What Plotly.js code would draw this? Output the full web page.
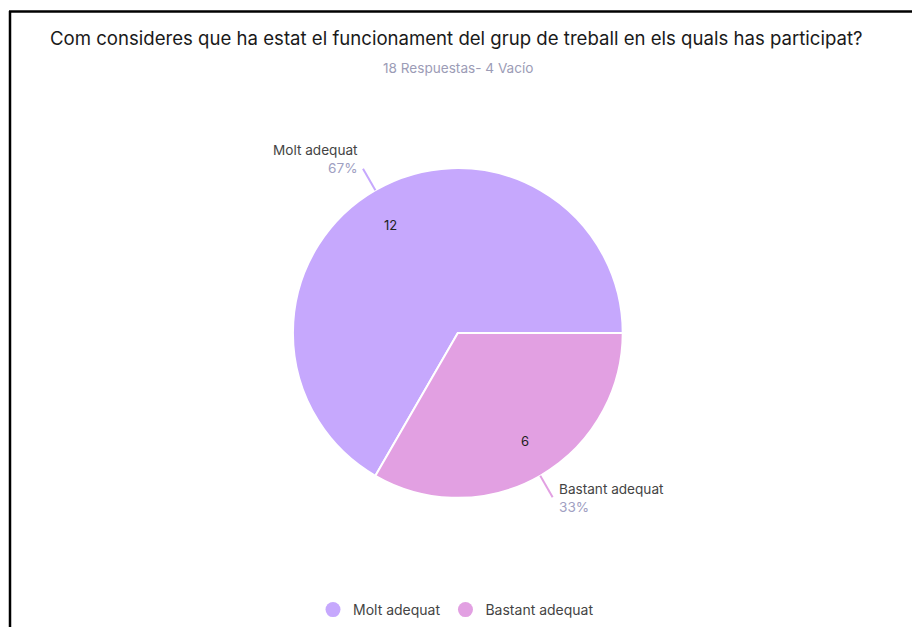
<!DOCTYPE html>
<html>
<head>
<meta charset="utf-8">
<script src="https://cdn.plot.ly/plotly-3.0.1.min.js"></script>
<style>html,body{margin:0;padding:0;background:#fff;}#chart{width:912px;height:627px;}</style>
</head>
<body>
<div id="chart"></div>
<script>
const titleText = 'Com consideres que ha estat el funcionament del grup de treball en els quals has participat?';
const subtitleText = '18 Respuestas- 4 Vacío';
const categories = ['Molt adequat', 'Bastant adequat'];
const counts = [12, 6];
const colors = ['#c6a8fd', '#e2a0e2'];

const W = 912, H = 627;
const FONT = 'Inter, "Noto Sans", sans-serif';
const domX = [0.321, 0.683];
const domY = [0.206, 0.732];

const total = counts.reduce((a, b) => a + b, 0);
const percents = counts.map(v => Math.round(v / total * 100) + '%');

// pie geometry in pixels (margins are zero so paper == full page)
const cx = W * (domX[0] + domX[1]) / 2;
const cy = H * (1 - (domY[0] + domY[1]) / 2);
const r = Math.min(W * (domX[1] - domX[0]), H * (domY[1] - domY[0])) / 2;
const toPaper = (px, py) => [px / W, 1 - py / H];
const pt = (deg, k) => {
  const a = deg * Math.PI / 180;
  return [cx + k * r * Math.cos(a), cy - k * r * Math.sin(a)];
};

const annotations = [
  {text: titleText, xref: 'paper', yref: 'paper', x: 0.5, y: 1 - 38 / H, xanchor: 'center', yanchor: 'middle',
   showarrow: false, font: {family: FONT, size: 18.6, color: '#1a1a1a'}},
  {text: subtitleText, xref: 'paper', yref: 'paper', x: 0.502, y: 1 - 68 / H, xanchor: 'center', yanchor: 'middle',
   showarrow: false, font: {family: FONT, size: 13.6, color: '#9c9cb6'}}
];
const shapes = [
  {type: 'line', xref: 'paper', yref: 'paper', x0: 9 / W, x1: 1, y0: 1 - 11.5 / H, y1: 1 - 11.5 / H, line: {color: '#000', width: 2.5}},
  {type: 'line', xref: 'paper', yref: 'paper', x0: 10 / W, x1: 10 / W, y0: 1 - 11 / H, y1: 0, line: {color: '#000', width: 2.5}}
];

// slices start at 3 o'clock and run counterclockwise
let cum = 0;
counts.forEach((v, i) => {
  const mid = (cum + v / 2) / total * 360;
  cum += v;
  const [ix, iy] = toPaper(...pt(mid + 2, 0.77));
  annotations.push({text: String(v), xref: 'paper', yref: 'paper', x: ix, y: iy, showarrow: false,
    xanchor: 'center', yanchor: 'middle', font: {family: FONT, size: 13, color: '#222'}});
  const p0 = pt(mid, 1.0), p1 = pt(mid, 1.15);
  const [a0x, a0y] = toPaper(...p0), [a1x, a1y] = toPaper(...p1);
  shapes.push({type: 'line', xref: 'paper', yref: 'paper', x0: a0x, y0: a0y, x1: a1x, y1: a1y,
    line: {color: colors[i], width: 2}});
  const left = Math.cos(mid * Math.PI / 180) < 0;
  const tx = left ? p1[0] - 4 : p1[0] + 5;
  const ty = left ? p1[1] - 10 : p1[1] + 1;
  annotations.push({
    text: categories[i] + '<br><span style="color:#a0a0c2">' + percents[i] + '</span>',
    xref: 'paper', yref: 'paper', x: tx / W, y: 1 - ty / H, showarrow: false,
    xanchor: left ? 'right' : 'left', yanchor: 'middle', align: left ? 'right' : 'left', borderpad: 0,
    font: {family: FONT, size: 13.6, color: '#444'}
  });
});

const data = [
  {type: 'pie', labels: categories, values: counts, sort: false, direction: 'counterclockwise', rotation: 210,
   marker: {colors: colors, line: {color: '#fff', width: 2}}, textinfo: 'none', hoverinfo: 'none',
   showlegend: false, domain: {x: domX, y: domY}}
];
categories.forEach((c, i) => {
  data.push({type: 'scatter', mode: 'markers', x: [null], y: [null], name: c,
    marker: {color: colors[i], size: 15, symbol: 'circle'}, hoverinfo: 'none'});
});

const layout = {
  width: W, height: H,
  margin: {l: 0, r: 0, t: 0, b: 0},
  paper_bgcolor: '#fff', plot_bgcolor: '#fff',
  xaxis: {visible: false}, yaxis: {visible: false},
  showlegend: true,
  legend: {orientation: 'h', x: 0.5, xanchor: 'center', y: 1 - 610 / H, yanchor: 'middle',
    font: {family: FONT, size: 14, color: '#444'}, itemwidth: 30, tracegroupgap: 0},
  annotations: annotations,
  shapes: shapes
};

Plotly.newPlot('chart', data, layout, {displayModeBar: false, staticPlot: true});
</script>
</body>
</html>
